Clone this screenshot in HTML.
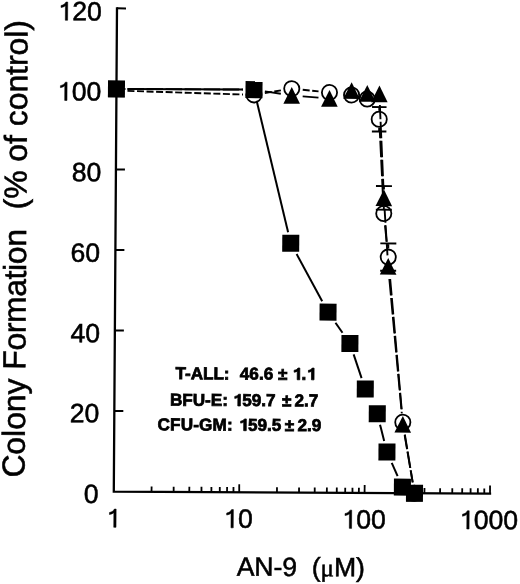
<!DOCTYPE html>
<html><head><meta charset="utf-8"><style>
html,body{margin:0;padding:0;background:#fff;width:520px;height:584px;overflow:hidden}
svg{display:block;filter:grayscale(1)}
text{font-family:"Liberation Sans", sans-serif;fill:#000;stroke:#000;stroke-width:0.55px}
text[font-weight=bold]{stroke-width:0.75px}
.h{fill:none;stroke:none}
</style></head><body>
<svg width="520" height="584" viewBox="0 0 520 584">
<rect width="520" height="584" fill="#fff"/>
<g transform="matrix(1 0.00536 -0.00660 1 3.245 -0.610)">
<path d="M113.80 8.36V491.60H490.00" stroke="#000" stroke-width="2.30" fill="none" stroke-linejoin="miter" stroke-linecap="square"/>
<line x1="113.80" y1="411.06" x2="122.80" y2="411.06" stroke="#000" stroke-width="2"/>
<line x1="113.80" y1="330.52" x2="122.80" y2="330.52" stroke="#000" stroke-width="2"/>
<line x1="113.80" y1="249.98" x2="122.80" y2="249.98" stroke="#000" stroke-width="2"/>
<line x1="113.80" y1="169.44" x2="122.80" y2="169.44" stroke="#000" stroke-width="2"/>
<line x1="113.80" y1="88.90" x2="122.80" y2="88.90" stroke="#000" stroke-width="2"/>
<line x1="113.80" y1="8.36" x2="122.80" y2="8.36" stroke="#000" stroke-width="2"/>
<line x1="151.55" y1="491.60" x2="151.55" y2="486.40" stroke="#000" stroke-width="1.8"/>
<line x1="173.63" y1="491.60" x2="173.63" y2="486.40" stroke="#000" stroke-width="1.8"/>
<line x1="189.30" y1="491.60" x2="189.30" y2="486.40" stroke="#000" stroke-width="1.8"/>
<line x1="201.45" y1="491.60" x2="201.45" y2="486.40" stroke="#000" stroke-width="1.8"/>
<line x1="211.38" y1="491.60" x2="211.38" y2="486.40" stroke="#000" stroke-width="1.8"/>
<line x1="219.78" y1="491.60" x2="219.78" y2="486.40" stroke="#000" stroke-width="1.8"/>
<line x1="227.05" y1="491.60" x2="227.05" y2="486.40" stroke="#000" stroke-width="1.8"/>
<line x1="233.46" y1="491.60" x2="233.46" y2="486.40" stroke="#000" stroke-width="1.8"/>
<line x1="239.20" y1="491.60" x2="239.20" y2="483.60" stroke="#000" stroke-width="1.8"/>
<line x1="276.95" y1="491.60" x2="276.95" y2="486.40" stroke="#000" stroke-width="1.8"/>
<line x1="299.03" y1="491.60" x2="299.03" y2="486.40" stroke="#000" stroke-width="1.8"/>
<line x1="314.70" y1="491.60" x2="314.70" y2="486.40" stroke="#000" stroke-width="1.8"/>
<line x1="326.85" y1="491.60" x2="326.85" y2="486.40" stroke="#000" stroke-width="1.8"/>
<line x1="336.78" y1="491.60" x2="336.78" y2="486.40" stroke="#000" stroke-width="1.8"/>
<line x1="345.18" y1="491.60" x2="345.18" y2="486.40" stroke="#000" stroke-width="1.8"/>
<line x1="352.45" y1="491.60" x2="352.45" y2="486.40" stroke="#000" stroke-width="1.8"/>
<line x1="358.86" y1="491.60" x2="358.86" y2="486.40" stroke="#000" stroke-width="1.8"/>
<line x1="364.60" y1="491.60" x2="364.60" y2="483.60" stroke="#000" stroke-width="1.8"/>
<line x1="402.35" y1="491.60" x2="402.35" y2="486.40" stroke="#000" stroke-width="1.8"/>
<line x1="424.43" y1="491.60" x2="424.43" y2="486.40" stroke="#000" stroke-width="1.8"/>
<line x1="440.10" y1="491.60" x2="440.10" y2="486.40" stroke="#000" stroke-width="1.8"/>
<line x1="452.25" y1="491.60" x2="452.25" y2="486.40" stroke="#000" stroke-width="1.8"/>
<line x1="462.18" y1="491.60" x2="462.18" y2="486.40" stroke="#000" stroke-width="1.8"/>
<line x1="470.58" y1="491.60" x2="470.58" y2="486.40" stroke="#000" stroke-width="1.8"/>
<line x1="477.85" y1="491.60" x2="477.85" y2="486.40" stroke="#000" stroke-width="1.8"/>
<line x1="484.26" y1="491.60" x2="484.26" y2="486.40" stroke="#000" stroke-width="1.8"/>
<line x1="490.00" y1="491.60" x2="490.00" y2="483.60" stroke="#000" stroke-width="1.8"/>
<text x="98.60" y="503.10" font-size="26.50" text-anchor="end">0</text>
<text x="98.90" y="422.46" font-size="26.50" text-anchor="end">20</text>
<text x="98.90" y="342.52" font-size="26.50" text-anchor="end">40</text>
<text x="98.60" y="261.88" font-size="26.50" text-anchor="end">60</text>
<text x="99.30" y="181.44" font-size="26.50" text-anchor="end">80</text>
<text class="m1" x="98.60" y="100.70" font-size="26.50" text-anchor="end"><tspan class="h">1</tspan>00</text>
<text class="m1" x="98.70" y="20.56" font-size="26.50" text-anchor="end"><tspan class="h">1</tspan>20</text>
<text class="m1" x="113.60" y="527.30" font-size="26.50" text-anchor="middle"><tspan class="h">1</tspan></text>
<text class="m1" x="238.20" y="527.20" font-size="26.50" text-anchor="middle"><tspan class="h">1</tspan>0</text>
<text class="m1" x="363.90" y="527.10" font-size="26.50" text-anchor="middle"><tspan class="h">1</tspan>00</text>
<text class="m1" x="488.75" y="527.10" font-size="26.50" text-anchor="middle"><tspan class="h">1</tspan>000</text>
<text x="237.20" y="575.10" font-size="26.5">AN-9&#160;&#160;(<tspan font-family="Liberation Serif" font-size="25">&#956;</tspan>M)</text>
<text transform="translate(24.50 478.10) rotate(-90)" font-size="31.85">Colony <tspan letter-spacing="-0.35">Formation</tspan><tspan dx="2.35">&#160;&#160;(% of control)</tspan></text>
<text class="m1" x="175.50" y="378.80" font-size="17.10" font-weight="bold"><tspan dx="-0.8">T-ALL:</tspan><tspan dx="0.8">&#160;&#160;46.6 &#177; <tspan class="h">1</tspan>.<tspan class="h">1</tspan></tspan></text>
<text class="m1" x="169.40" y="405.30" font-size="17.10" font-weight="bold">BFU-E: <tspan class="h">1</tspan>59.7<tspan dx="1.7"> &#177;</tspan><tspan dx="-1.4"> 2.7</tspan></text>
<text class="m1" x="157.10" y="430.00" font-size="17.10" font-weight="bold"><tspan letter-spacing="0.2">CFU-GM:</tspan><tspan dx="0.8"> <tspan class="h">1</tspan>59.5</tspan><tspan dx="-1.3"> &#177;</tspan><tspan dx="-1.5"> 2.9</tspan></text>
<line x1="124.80" y1="90.80" x2="240.36" y2="93.85" stroke="#000" stroke-width="1.9" stroke-dasharray="7 2.55"/>
<line x1="262.20" y1="92.28" x2="278.26" y2="89.54" stroke="#000" stroke-width="1.9" stroke-dasharray="7 2.55"/>
<line x1="300.05" y1="88.74" x2="315.90" y2="90.26" stroke="#000" stroke-width="1.9" stroke-dasharray="7 2.55"/>
<line x1="377.36" y1="128.88" x2="381.34" y2="201.14" stroke="#000" stroke-width="1.9" stroke-dasharray="16.50 2.55" stroke-dashoffset="8.55"/>
<line x1="383.13" y1="223.06" x2="385.49" y2="244.68" stroke="#000" stroke-width="1.9" stroke-dasharray="16.50 2.55" stroke-dashoffset="18.23"/>
<line x1="388.71" y1="277.03" x2="401.31" y2="409.77" stroke="#000" stroke-width="1.9" stroke-dasharray="16.50 2.55" stroke-dashoffset="18.56"/>
<line x1="404.44" y1="432.94" x2="412.64" y2="480.76" stroke="#000" stroke-width="1.9" stroke-dasharray="16.50 2.55" stroke-dashoffset="1.66"/>
<line x1="124.80" y1="88.90" x2="240.35" y2="88.90" stroke="#000" stroke-width="1.9" stroke-dasharray="16.5 2.55"/>
<line x1="262.23" y1="90.52" x2="278.22" y2="92.91" stroke="#000" stroke-width="1.9" stroke-dasharray="16.5 2.55"/>
<line x1="300.07" y1="95.36" x2="315.88" y2="96.54" stroke="#000" stroke-width="1.9" stroke-dasharray="16.5 2.55"/>
<line x1="377.30" y1="103.51" x2="381.39" y2="185.43" stroke="#000" stroke-width="1.9" stroke-dasharray="16.50 2.55" stroke-dashoffset="2.21"/>
<line x1="382.70" y1="207.39" x2="385.92" y2="253.91" stroke="#000" stroke-width="1.9" stroke-dasharray="16.50 2.55" stroke-dashoffset="2.59"/>
<line x1="387.77" y1="275.83" x2="401.26" y2="411.79" stroke="#000" stroke-width="1.9" stroke-dasharray="16.50 2.55" stroke-dashoffset="17.34"/>
<line x1="404.26" y1="433.57" x2="412.59" y2="480.77" stroke="#000" stroke-width="1.9" stroke-dasharray="16.50 2.55" stroke-dashoffset="2.28"/>
<line x1="124.90" y1="88.90" x2="240.25" y2="88.90" stroke="#000" stroke-width="2"/>
<line x1="254.07" y1="99.92" x2="286.39" y2="231.30" stroke="#000" stroke-width="2"/>
<line x1="295.03" y1="253.11" x2="320.92" y2="300.21" stroke="#000" stroke-width="2"/>
<line x1="334.37" y1="321.61" x2="341.42" y2="331.58" stroke="#000" stroke-width="2"/>
<line x1="352.71" y1="353.16" x2="360.83" y2="376.75" stroke="#000" stroke-width="2"/>
<line x1="379.61" y1="423.28" x2="383.82" y2="439.51" stroke="#000" stroke-width="2"/>
<line x1="391.54" y1="461.40" x2="397.49" y2="474.69" stroke="#000" stroke-width="2"/>
<path d="M376.75 105.69V109.39M376.75 126.39V130.10M369.50 105.69H384.00M369.50 130.10H384.00" stroke="#000" stroke-width="1.9" fill="none"/>
<path d="M381.94 184.62V188.02M381.94 204.72V208.22M373.94 184.62H389.94M373.94 208.22H389.94" stroke="#000" stroke-width="1.9" fill="none"/>
<path d="M386.68 241.93V247.12M386.68 264.12V269.31M378.68 241.93H394.68M378.68 269.31H394.68" stroke="#000" stroke-width="1.9" fill="none"/>
<circle cx="251.35" cy="94.14" r="7.60" fill="none" stroke="#000" stroke-width="1.8"/>
<circle cx="289.10" cy="87.69" r="7.60" fill="none" stroke="#000" stroke-width="1.8"/>
<circle cx="326.85" cy="91.32" r="7.60" fill="none" stroke="#000" stroke-width="1.8"/>
<circle cx="348.93" cy="93.73" r="7.60" fill="none" stroke="#000" stroke-width="1.8"/>
<circle cx="364.60" cy="97.76" r="7.60" fill="none" stroke="#000" stroke-width="1.8"/>
<circle cx="376.75" cy="117.89" r="7.60" fill="none" stroke="#000" stroke-width="1.8"/>
<circle cx="381.94" cy="212.13" r="7.60" fill="none" stroke="#000" stroke-width="1.8"/>
<circle cx="386.68" cy="255.62" r="7.60" fill="none" stroke="#000" stroke-width="1.8"/>
<circle cx="402.35" cy="420.72" r="7.60" fill="none" stroke="#000" stroke-width="1.8"/>
<circle cx="414.50" cy="491.60" r="7.60" fill="none" stroke="#000" stroke-width="1.8"/>
<path d="M113.80 80.50L122.10 97.20L105.50 97.20Z" fill="#000"/>
<path d="M251.35 80.50L259.65 97.20L243.05 97.20Z" fill="#000"/>
<path d="M289.10 86.14L297.40 102.84L280.80 102.84Z" fill="#000"/>
<path d="M326.85 88.96L335.15 105.66L318.55 105.66Z" fill="#000"/>
<path d="M348.93 80.90L357.23 97.60L340.63 97.60Z" fill="#000"/>
<path d="M364.60 83.72L372.90 100.42L356.30 100.42Z" fill="#000"/>
<path d="M376.75 84.12L385.05 100.82L368.45 100.82Z" fill="#000"/>
<path d="M381.94 188.02L390.24 204.72L373.64 204.72Z" fill="#000"/>
<path d="M386.68 256.48L394.98 273.18L378.38 273.18Z" fill="#000"/>
<path d="M402.35 414.34L410.65 431.04L394.05 431.04Z" fill="#000"/>
<path d="M414.50 483.20L422.80 499.90L406.20 499.90Z" fill="#000"/>
<rect x="105.30" y="80.40" width="17" height="17" fill="#000"/>
<rect x="242.85" y="80.40" width="17" height="17" fill="#000"/>
<rect x="280.60" y="233.83" width="17" height="17" fill="#000"/>
<rect x="318.35" y="302.49" width="17" height="17" fill="#000"/>
<rect x="340.43" y="333.70" width="17" height="17" fill="#000"/>
<rect x="356.10" y="379.20" width="17" height="17" fill="#000"/>
<rect x="368.25" y="403.77" width="17" height="17" fill="#000"/>
<rect x="378.18" y="442.02" width="17" height="17" fill="#000"/>
<rect x="393.85" y="477.06" width="17" height="17" fill="#000"/>
<rect x="406.00" y="483.10" width="17" height="17" fill="#000"/>
<path d="M64.39 100.70L64.39 82.47L62.65 82.47C61.87 84.27 60.06 85.43 57.76 85.95L57.76 87.95C59.54 87.63 60.97 86.98 62.13 86.08L62.13 100.70Z" fill="#000" stroke="#000" stroke-width="0.55" stroke-linejoin="miter"/>
<path d="M64.49 20.56L64.49 2.33L62.75 2.33C61.97 4.13 60.16 5.29 57.86 5.81L57.86 7.81C59.64 7.49 61.07 6.84 62.23 5.94L62.23 20.56Z" fill="#000" stroke="#000" stroke-width="0.55" stroke-linejoin="miter"/>
<path d="M116.25 527.30L116.25 509.07L114.51 509.07C113.73 510.87 111.92 512.03 109.62 512.55L109.62 514.55C111.40 514.23 112.82 513.58 113.99 512.68L113.99 527.30Z" fill="#000" stroke="#000" stroke-width="0.55" stroke-linejoin="miter"/>
<path d="M233.48 527.20L233.48 508.97L231.73 508.97C230.96 510.77 229.14 511.93 226.84 512.45L226.84 514.45C228.63 514.13 230.05 513.48 231.21 512.58L231.21 527.20Z" fill="#000" stroke="#000" stroke-width="0.55" stroke-linejoin="miter"/>
<path d="M351.81 527.10L351.81 508.87L350.06 508.87C349.29 510.67 347.48 511.83 345.17 512.35L345.17 514.35C346.96 514.03 348.38 513.38 349.55 512.48L349.55 527.10Z" fill="#000" stroke="#000" stroke-width="0.55" stroke-linejoin="miter"/>
<path d="M469.29 527.10L469.29 508.87L467.55 508.87C466.77 510.67 464.96 511.83 462.66 512.35L462.66 514.35C464.44 514.03 465.87 513.38 467.03 512.48L467.03 527.10Z" fill="#000" stroke="#000" stroke-width="0.55" stroke-linejoin="miter"/>
<path d="M299.00 378.80L299.00 367.04L297.12 367.04C296.62 368.20 295.20 368.99 293.37 369.28L293.37 371.24C294.62 371.08 295.62 370.74 296.46 370.16L296.46 378.80Z" fill="#000" stroke="#000" stroke-width="0.75" stroke-linejoin="miter"/>
<path d="M313.27 378.80L313.27 367.04L311.39 367.04C310.89 368.20 309.47 368.99 307.63 369.28L307.63 371.24C308.88 371.08 309.89 370.74 310.72 370.16L310.72 378.80Z" fill="#000" stroke="#000" stroke-width="0.75" stroke-linejoin="miter"/>
<path d="M239.79 405.30L239.79 393.54L237.92 393.54C237.41 394.70 236.00 395.49 234.16 395.78L234.16 397.74C235.41 397.58 236.41 397.24 237.25 396.66L237.25 405.30Z" fill="#000" stroke="#000" stroke-width="0.75" stroke-linejoin="miter"/>
<path d="M245.83 430.00L245.83 418.24L243.95 418.24C243.45 419.40 242.03 420.19 240.19 420.48L240.19 422.44C241.44 422.28 242.44 421.94 243.28 421.36L243.28 430.00Z" fill="#000" stroke="#000" stroke-width="0.75" stroke-linejoin="miter"/>
</g>
</svg>
</body></html>
